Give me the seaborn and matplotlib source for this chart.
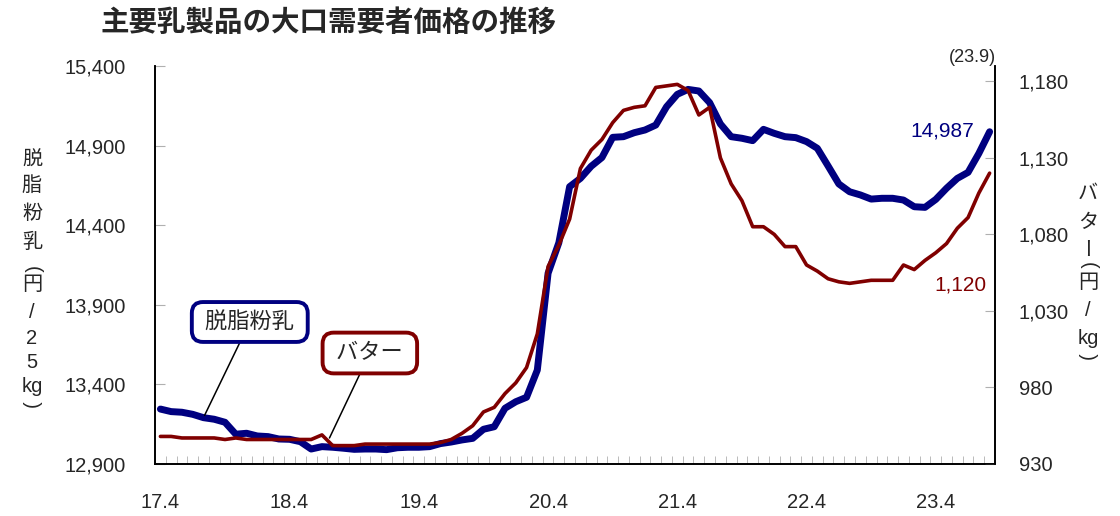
import numpy as np
import pandas as pd
import matplotlib
matplotlib.use("Agg")
import matplotlib.pyplot as plt
import seaborn as sns

# monthly data 17.4 .. 23.9
tick_labels = ['17.4', '18.4', '19.4', '20.4', '21.4', '22.4', '23.4']

skim_milk = [13245, 13229, 13225, 13212, 13191, 13181, 13162, 13087, 13093, 13076,
             13072, 13057, 13055, 13040, 12994, 13009, 13005, 12999, 12992, 12994,
             12994, 12990, 13002, 13005, 13005, 13009, 13028, 13038, 13051, 13061,
             13118, 13134, 13250, 13291, 13319, 13490, 14098, 14290, 14642, 14694,
             14770, 14825, 14952, 14956, 14981, 14998, 15029, 15144, 15222, 15253,
             15243, 15170, 15036, 14956, 14946, 14931, 15002, 14977, 14956, 14950,
             14925, 14883, 14772, 14659, 14610, 14590, 14564, 14569, 14569, 14558,
             14516, 14512, 14562, 14632, 14694, 14732, 14851, 14987]

butter = [948, 948, 947, 947, 947, 947, 946, 947, 946, 946,
          946, 946, 946, 946, 946, 949, 942, 942, 942, 943,
          943, 943, 943, 943, 943, 943, 944, 946, 950, 955,
          964, 967, 976, 983, 993, 1015, 1059, 1073, 1090, 1123,
          1135, 1142, 1153, 1161, 1163, 1164, 1176, 1177, 1178, 1174,
          1158, 1163, 1130, 1113, 1102, 1085, 1085, 1080, 1072, 1072,
          1060, 1056, 1051, 1049, 1048, 1049, 1050, 1050, 1050, 1060,
          1057, 1063, 1068, 1074, 1084, 1091, 1107, 1120]

df = pd.DataFrame({'idx': np.arange(len(skim_milk)), 'skim': skim_milk, 'butter': butter})

BLUE = '#000080'
RED = '#800000'

sns.set_style("white")
plt.rcParams['font.family'] = ['Liberation Sans', 'Noto Sans CJK JP']

W, H = 1120, 516
fig = plt.figure(figsize=(W / 100, H / 100), dpi=100)
ax = fig.add_axes([0.1384, 0.1008, 0.75, 0.7713])
ax2 = ax.twinx()

sns.lineplot(data=df, x='idx', y='skim', ax=ax, color=BLUE, lw=5, legend=False)
sns.lineplot(data=df, x='idx', y='butter', ax=ax2, color=RED, lw=2.6, legend=False)

ax.set_xlim(-0.5, len(df) - 0.5)
ax.set_ylim(12900, 15400)
ax2.set_ylim(930, 1190)

ax.set_yticks(np.arange(12900, 15401, 500))
ax.set_yticklabels([f"{v:,}" for v in range(12900, 15401, 500)])
ax2.set_yticks(np.arange(930, 1181, 50))
ax2.set_yticklabels([f"{v:,}" for v in range(930, 1181, 50)])

ax.set_xticks(np.arange(0, len(df), 12))
ax.set_xticklabels(tick_labels)
ax.set_xticks(np.arange(0.5, len(df) - 1, 1), minor=True)

ax.tick_params(axis='x', which='major', length=0, pad=21, labelsize=14.5)
ax.tick_params(axis='x', which='minor', direction='in', length=6, color='#b0b0b0', bottom=True)
ax.tick_params(axis='y', direction='in', length=7, color='#b0b0b0', pad=21, labelsize=14.5, left=True)
ax2.tick_params(axis='y', direction='in', length=7, color='#b0b0b0', pad=17, labelsize=14.5, right=True)

for a in (ax, ax2):
    a.set_xlabel('')
    a.set_ylabel('')
    a.spines['top'].set_visible(False)
    for s in ('left', 'right', 'bottom'):
        a.spines[s].set_color('black')
        a.spines[s].set_linewidth(1.2)

# callouts
ax.annotate(' 脱脂粉乳 ', xy=(4.1, 13205), xytext=(8.3, 13792), ha='center', va='center',
            fontsize=16, family=['Noto Sans CJK JP'],
            bbox=dict(boxstyle='round,pad=0.38,rounding_size=0.5', fc='white', ec=BLUE, lw=2.8),
            arrowprops=dict(arrowstyle='-', color='black', lw=1.1, shrinkA=0, shrinkB=0))
ax2.annotate(' バター ', xy=(15.7, 947), xytext=(19.45, 1002.5), ha='center', va='center',
             fontsize=16, family=['Noto Sans CJK JP'],
             bbox=dict(boxstyle='round,pad=0.4,rounding_size=0.5', fc='white', ec=RED, lw=2.8),
             arrowprops=dict(arrowstyle='-', color='black', lw=1.1, shrinkA=0, shrinkB=0))

# latest values
ax.text(75.6, skim_milk[-1] + 5, f"{skim_milk[-1]:,}", color=BLUE, fontsize=15, ha='right', va='center')
ax2.text(76.7, 1047, f"{butter[-1]:,}", color=RED, fontsize=15, ha='right', va='center')

fig.text(100 / W, 1 - 23 / H, '主要乳製品の大口需要者価格の推移', fontsize=20.5, fontweight='bold',
         family=['Noto Sans CJK JP'], ha='left', va='center')
fig.text(972 / W, 1 - 57 / H, '(23.9)', fontsize=13, ha='center', va='center')


def vertical_label(x_px, items):
    # items: (text, y pixel, rotation, x shift)
    for s, y_px, rot, dx in items:
        fig.text((x_px + dx) / W, 1 - y_px / H, s, fontsize=14.5, ha='center', va='center',
                 rotation=rot, rotation_mode='anchor')


vertical_label(32, [('脱', 160, 0, 0), ('脂', 185, 0, 0), ('粉', 213, 0, 0), ('乳', 242, 0, 0),
                    ('(', 269, -90, 0), ('円', 284, 0, 0), ('/', 312, 0, 0), ('2', 338, 0, 0),
                    ('5', 362, 0, 0), ('kg', 386, 0, 0), ('(', 404, 90, 0)])
vertical_label(1088, [('バ', 193, 0, 0), ('タ', 223, 0, 0), ('ー', 249, -90, -4),
                      ('(', 265, -90, 0), ('円', 283, 0, 0), ('/', 310, 0, 0),
                      ('kg', 338, 0, 0), ('(', 356, 90, 0)])

fig.savefig('out.png', dpi=100)
